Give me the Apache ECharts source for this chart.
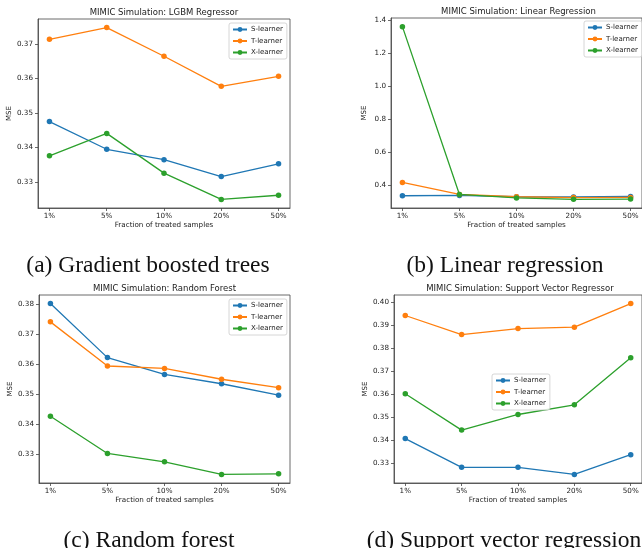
<!DOCTYPE html>
<html><head><meta charset="utf-8">
<script src="https://cdn.jsdelivr.net/npm/echarts@6/dist/echarts.min.js"></script>
<style>html,body{margin:0;padding:0;background:#fff}#c{width:642px;height:548px}</style>
</head><body><div id="c"></div>
<script>
const categories = ['1%', '5%', '10%', '20%', '50%'];
const learners = ['S-learner', 'T-learner', 'X-learner'];

// (a) LGBM
const lgbmS = [0.3475, 0.3395, 0.3365, 0.3316, 0.3353];
const lgbmT = [0.3713, 0.3747, 0.3664, 0.3577, 0.3606];
const lgbmX = [0.3376, 0.3441, 0.3326, 0.3250, 0.3262];
// (b) Linear
const linS = [0.333, 0.335, 0.327, 0.326, 0.329];
const linT = [0.414, 0.341, 0.327, 0.322, 0.323];
const linX = [1.363, 0.341, 0.320, 0.311, 0.313];
// (c) Random forest
const rfS = [0.3803, 0.3623, 0.3567, 0.3536, 0.3498];
const rfT = [0.3742, 0.3595, 0.3587, 0.3551, 0.3523];
const rfX = [0.3428, 0.3304, 0.3276, 0.3234, 0.3236];
// (d) SVR
const svrS = [0.3406, 0.3281, 0.3281, 0.3250, 0.3336];
const svrT = [0.3942, 0.3859, 0.3885, 0.3891, 0.3994];
const svrX = [0.3601, 0.3443, 0.3511, 0.3553, 0.3758];

const titles = ['MIMIC Simulation: LGBM Regressor', 'MIMIC Simulation: Linear Regression',
                'MIMIC Simulation: Random Forest', 'MIMIC Simulation: Support Vector Regressor'];
const captions = ['(a) Gradient boosted trees', '(b) Linear regression', '(c) Random forest', '(d) Support vector regression'];
const yTicksA = [0.33, 0.34, 0.35, 0.36, 0.37];
const yTicksB = [0.4, 0.6, 0.8, 1.0, 1.2, 1.4];
const yTicksC = [0.33, 0.34, 0.35, 0.36, 0.37, 0.38];
const yTicksD = [0.33, 0.34, 0.35, 0.36, 0.37, 0.38, 0.39, 0.40];

const panelData = [[lgbmS, lgbmT, lgbmX], [linS, linT, linX], [rfS, rfT, rfX], [svrS, svrT, svrX]];
const panelTicks = [yTicksA, yTicksB, yTicksC, yTicksD];
const tickDecimals = [2, 1, 2, 2];

// layout
const grids = [
  {left: 38, top: 19, width: 252, height: 189},
  {left: 391, top: 18, width: 255, height: 190},
  {left: 39, top: 295, width: 251, height: 188},
  {left: 394, top: 295, width: 252, height: 188}
];
const legendPos = [
  {left: 229, top: 23}, {left: 584, top: 21}, {left: 229, top: 299}, {left: 492, top: 374}
];
const captionPos = [
  {x: 148, y: 254}, {x: 505, y: 254}, {x: 149, y: 529}, {x: 504, y: 529}
];
const colors = ['#1f77b4', '#ff7f0e', '#2ca02c'];
const FONT = 'DejaVu Sans';
const TXT = '#222';
const FRAME = '#444';

const option = {
  animation: false,
  color: colors,
  grid: [], xAxis: [], yAxis: [], series: [], title: [], legend: []
};

panelData.forEach((sets, p) => {
  const all = [].concat(...sets);
  const lo = Math.min(...all), hi = Math.max(...all), r = hi - lo;
  const g = grids[p];
  option.grid.push({left: g.left, top: g.top, width: g.width, height: g.height,
    show: true, borderColor: FRAME, borderWidth: 0.8, backgroundColor: 'transparent'});
  option.xAxis.push({
    type: 'value', gridIndex: p, min: -0.2, max: 4.2, position: 'bottom',
    name: 'Fraction of treated samples', nameLocation: 'middle', nameGap: 14,
    nameTextStyle: {fontFamily: FONT, fontSize: 7.2, color: TXT},
    axisLine: {show: true, onZero: false, lineStyle: {color: FRAME, width: 0.8}}, splitLine: {show: false},
    axisTick: {show: true, length: 3, customValues: [0, 1, 2, 3, 4], lineStyle: {color: FRAME, width: 0.8}},
    axisLabel: {customValues: [0, 1, 2, 3, 4], margin: 5, fontFamily: FONT, fontSize: 7.2, color: TXT,
      formatter: v => categories[Math.round(v)]}
  });
  const ticks = panelTicks[p];
  option.yAxis.push({
    type: 'value', gridIndex: p, min: lo - 0.05 * r, max: hi + 0.05 * r, position: 'left',
    name: 'MSE', nameLocation: 'middle', nameGap: 23, nameRotate: 90,
    nameTextStyle: {fontFamily: FONT, fontSize: 7, color: TXT},
    axisLine: {show: true, onZero: false, lineStyle: {color: FRAME, width: 0.8}}, splitLine: {show: false},
    axisTick: {show: true, length: 3, customValues: ticks, lineStyle: {color: FRAME, width: 0.8}},
    axisLabel: {customValues: ticks, margin: 5, fontFamily: FONT, fontSize: 7.2, color: TXT,
      formatter: v => v.toFixed(tickDecimals[p])}
  });
  sets.forEach((vals, k) => {
    option.series.push({
      type: 'line', name: learners[k], xAxisIndex: p, yAxisIndex: p,
      data: vals.map((v, i) => [i, v]),
      symbol: 'circle', symbolSize: 5.5, showSymbol: true,
      lineStyle: {width: 1.3, color: colors[k]}, itemStyle: {color: colors[k]}
    });
  });
  option.title.push({
    text: titles[p], left: g.left + g.width / 2, top: g.top - 10.5, textAlign: 'center', padding: 0,
    textStyle: {fontFamily: FONT, fontSize: 8.5, fontWeight: 'normal', color: TXT}
  });
  option.title.push({
    text: captions[p], left: captionPos[p].x, top: captionPos[p].y, textAlign: 'center', padding: 0,
    textStyle: {fontFamily: 'Liberation Serif', fontSize: 23.5, fontWeight: 'normal', color: '#111'}
  });
  option.legend.push({
    data: learners.map(n => ({name: n})),
    orient: 'vertical', left: legendPos[p].left, top: legendPos[p].top,
    itemWidth: 14, itemHeight: 6, itemGap: 4.5, padding: [3, 4, 3, 3],
    backgroundColor: 'rgba(255,255,255,0.8)', borderColor: '#ccc', borderWidth: 0.8, borderRadius: 2,
    textStyle: {fontFamily: FONT, fontSize: 7, color: TXT, padding: [0, 0, 0, -1]}
  });
});

const chart = echarts.init(document.getElementById('c'), null, {renderer: 'canvas'});
chart.setOption(option);
</script></body></html>
